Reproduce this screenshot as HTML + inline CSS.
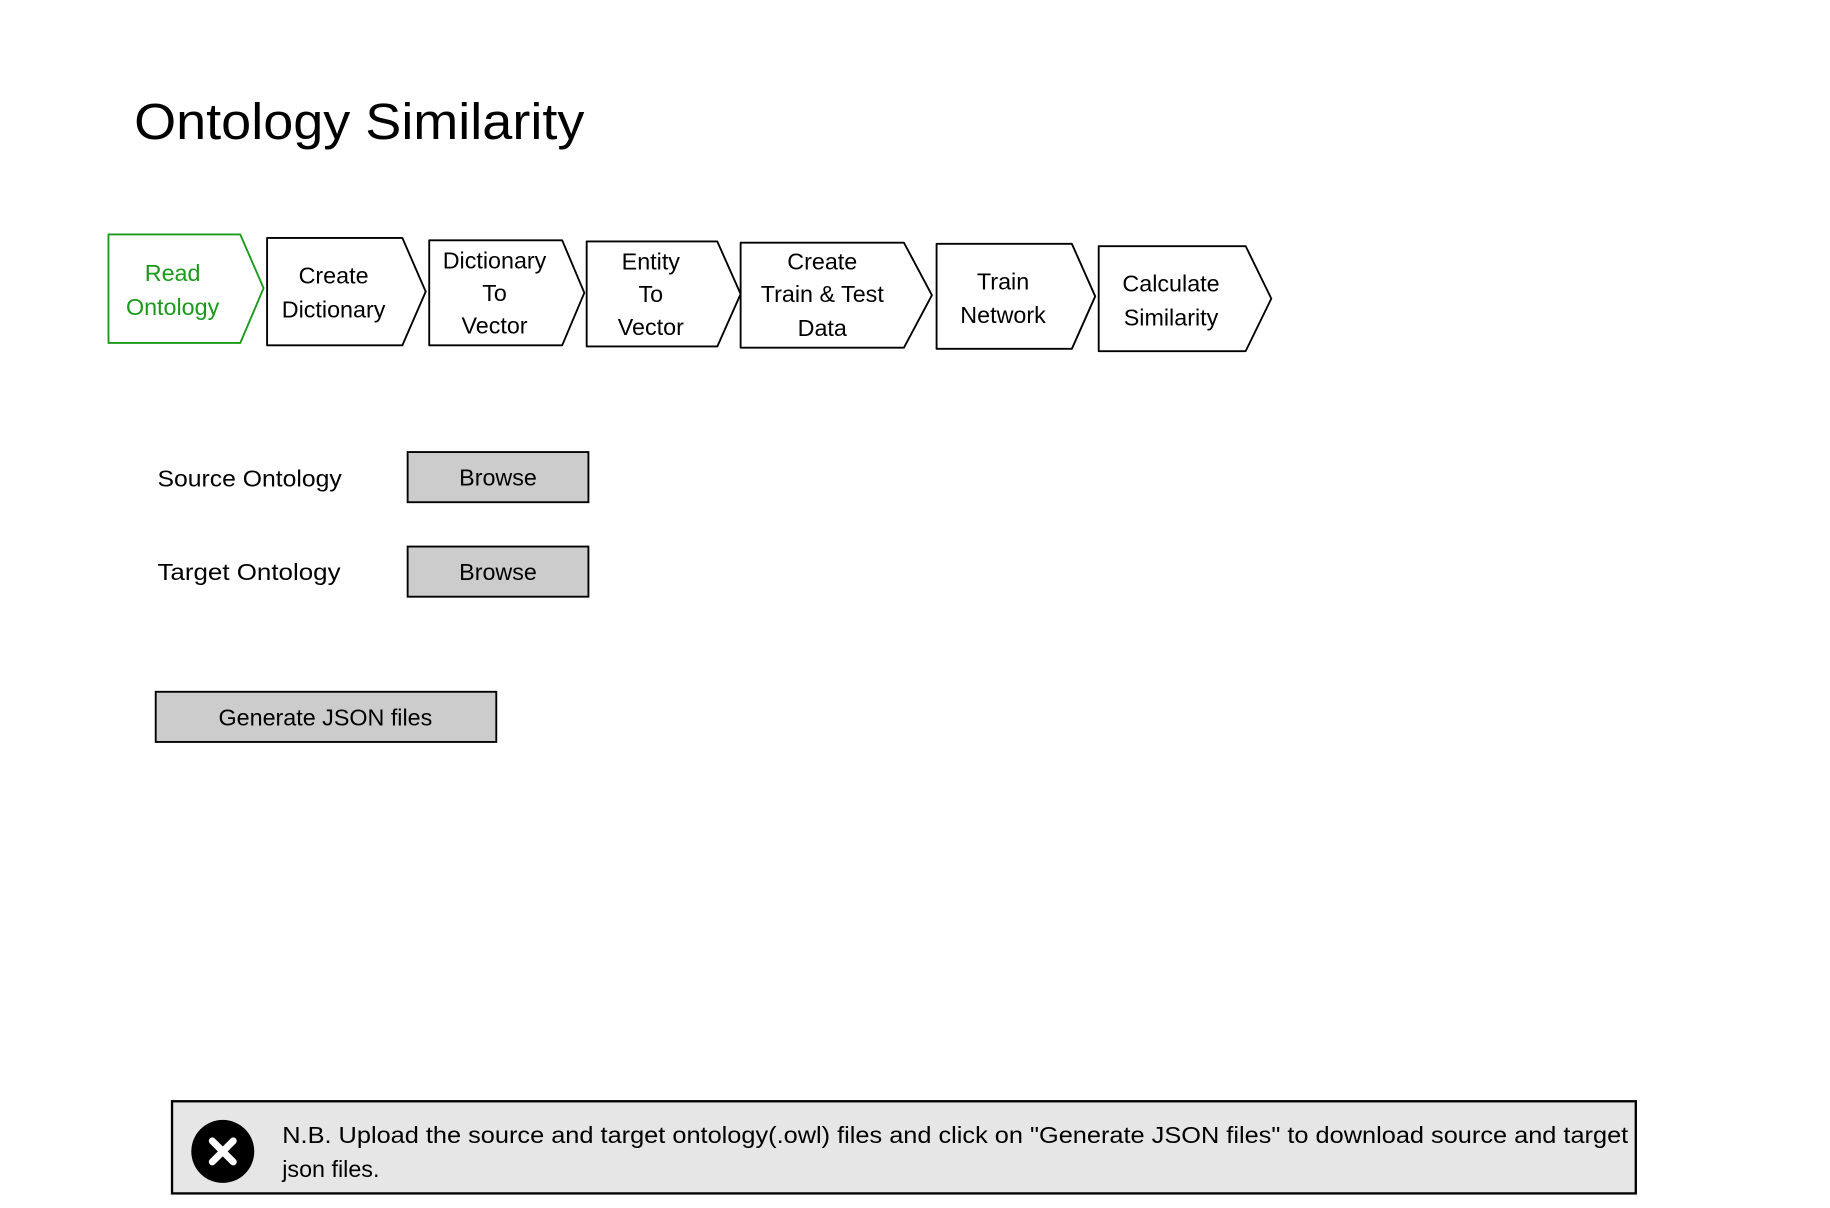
<!DOCTYPE html>
<html><head><meta charset="utf-8"><style>
html,body{margin:0;padding:0;background:#fff;}
svg{display:block;}
text{font-family:"Liberation Sans",sans-serif;}
</style></head><body>
<svg width="1830" height="1208" viewBox="0 0 1569 1035.5" preserveAspectRatio="none" xmlns="http://www.w3.org/2000/svg">
<rect width="1569" height="1036" fill="#fff"/>
<text x="115" y="119" font-size="44" fill="#000" textLength="386" lengthAdjust="spacingAndGlyphs">Ontology Similarity</text>
<g stroke-width="1.6" fill="#fff" stroke-linejoin="round">
<path d="M93 201 H206 L226 247 L206 294 H93 Z" stroke="#1a9a1a"/>
<path d="M229 204 H345 L365 250 L345 296 H229 Z" stroke="#000"/>
<path d="M368 206 H482 L501 251 L482 296 H368 Z" stroke="#000"/>
<path d="M503 207 H615 L635 252 L615 297 H503 Z" stroke="#000"/>
<path d="M635 208 H775 L799 253 L775 298 H635 Z" stroke="#000"/>
<path d="M803 209 H919 L939 254 L919 299 H803 Z" stroke="#000"/>
<path d="M942 211 H1068 L1090 256 L1068 301 H942 Z" stroke="#000"/>
</g>
<g font-size="20" text-anchor="middle">
<text x="148" y="241" fill="#1a9a1a">Read</text>
<text x="148" y="270" fill="#1a9a1a">Ontology</text>
<text x="286" y="243">Create</text>
<text x="286" y="272">Dictionary</text>
<text x="424" y="230">Dictionary</text>
<text x="424" y="258">To</text>
<text x="424" y="286">Vector</text>
<text x="558" y="231">Entity</text>
<text x="558" y="259">To</text>
<text x="558" y="287">Vector</text>
<text x="705" y="231">Create</text>
<text x="705" y="259">Train &amp; Test</text>
<text x="705" y="288">Data</text>
<text x="860" y="248">Train</text>
<text x="860" y="277">Network</text>
<text x="1004" y="250">Calculate</text>
<text x="1004" y="279">Similarity</text>
</g>
<text x="135" y="417" font-size="20" textLength="158" lengthAdjust="spacingAndGlyphs">Source Ontology</text>
<text x="135" y="497" font-size="20" textLength="157" lengthAdjust="spacingAndGlyphs">Target Ontology</text>
<rect x="349.5" y="387.5" width="155" height="43" fill="#cccccc" stroke="#000" stroke-width="1.6"/>
<rect x="349.5" y="468.5" width="155" height="43" fill="#cccccc" stroke="#000" stroke-width="1.6"/>
<text x="427" y="416" font-size="20" text-anchor="middle">Browse</text>
<text x="427" y="497" font-size="20" text-anchor="middle">Browse</text>
<rect x="133.5" y="593" width="292" height="43" fill="#cccccc" stroke="#000" stroke-width="1.6"/>
<text x="279" y="622" font-size="20" text-anchor="middle">Generate JSON files</text>
<rect x="147.5" y="944" width="1255" height="79" fill="#e6e6e6" stroke="#000" stroke-width="2"/>
<circle cx="191" cy="987" r="27" fill="#000"/>
<path d="M182 978 L200 996 M200 978 L182 996" stroke="#fff" stroke-width="6" stroke-linecap="round"/>
<text x="242" y="980" font-size="20" textLength="1154" lengthAdjust="spacingAndGlyphs">N.B. Upload the source and target ontology(.owl) files and click on "Generate JSON files" to download source and target</text>
<text x="242" y="1009" font-size="20">json files.</text>
</svg>
</body></html>
